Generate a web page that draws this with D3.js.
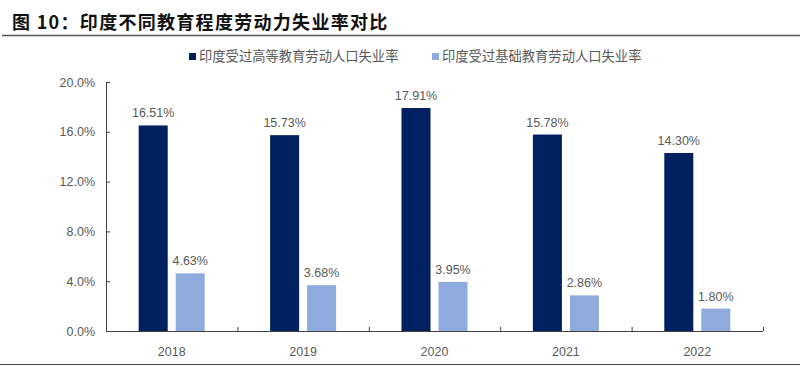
<!DOCTYPE html>
<html><head><meta charset="utf-8">
<script src="https://cdn.jsdelivr.net/npm/d3@7"></script>
<style>body{margin:0;background:#fff;}svg{display:block;}</style>
</head><body>
<svg id="c" width="800" height="366"></svg>
<script>
const years = ["2018","2019","2020","2021","2022"];
const seriesNames = ["印度受过高等教育劳动人口失业率","印度受过基础教育劳动人口失业率"];
const higherEdu = [16.51,15.73,17.91,15.78,14.30];
const basicEdu = [4.63,3.68,3.95,2.86,1.80];
const yTicks = [0,4,8,12,16,20];
const colors = ["#002060","#8FAADC"];
const txt = "#595959";

const svg = d3.select("#c");
const font = "Arial, 'Liberation Sans', sans-serif";
const cjk = "'Noto Sans CJK SC', sans-serif";

// title
svg.append("text").attr("x",12).attr("y",29).attr("font-family",cjk).attr("font-weight","bold")
  .attr("font-size",18).attr("fill","#111").attr("letter-spacing",1.3).text("图 10：印度不同教育程度劳动力失业率对比");
svg.append("line").attr("x1",2).attr("x2",800).attr("y1",35.5).attr("y2",35.5).attr("stroke","#555").attr("stroke-width",1.5);
svg.append("line").attr("x1",0).attr("x2",800).attr("y1",364.5).attr("y2",364.5).attr("stroke","#444").attr("stroke-width",1);

const x = d3.scaleBand().domain(years).range([106,763]);
const y = d3.scaleLinear().domain([0,20]).range([331,82]);

// legend
const legX = [189,432];
seriesNames.forEach((n,i)=>{
  svg.append("rect").attr("x",legX[i]).attr("y",53).attr("width",7).attr("height",7).attr("fill",colors[i]);
  svg.append("text").attr("x",legX[i]+10).attr("y",61).attr("font-family",cjk).attr("font-size",13.3)
    .attr("fill",txt).text(n);
});

// axes
const yAxis = svg.append("g").attr("transform","translate(106,0)")
  .call(d3.axisLeft(y).tickValues(yTicks).tickSize(-4).tickPadding(11).tickFormat(d=>d.toFixed(1)+"%"));
yAxis.selectAll("text").attr("font-family",font).attr("font-size",12.5).attr("fill",txt);
yAxis.selectAll("line,path").attr("stroke","#404040");
yAxis.select("path").attr("d","M0.5,82V331");

const xAxis = svg.append("g").attr("transform","translate(0,331)")
  .call(d3.axisBottom(x).tickSize(0).tickPadding(16));
xAxis.selectAll("text").attr("font-family",font).attr("font-size",12.5).attr("fill",txt);
xAxis.select("path").attr("stroke","#404040").attr("d","M106,0.5H763");
// category boundary ticks
const bounds = years.map(d=>x(d)).concat([x(years[years.length-1])+x.bandwidth()]);
svg.append("g").selectAll("line").data(bounds).join("line")
  .attr("x1",d=>d+0.5).attr("x2",d=>d+0.5).attr("y1",327).attr("y2",331).attr("stroke","#404040");

// bars
const bw = 29, gap = 8;
const data = [higherEdu, basicEdu];
data.forEach((vals,si)=>{
  const g = svg.append("g");
  const bx = (d,i)=> x(years[i]) + x.bandwidth()/2 - (bw*2+gap)/2 + si*(bw+gap);
  g.selectAll("rect").data(vals).join("rect")
    .attr("x",bx).attr("y",d=>y(d)).attr("width",bw).attr("height",d=>y(0)-y(d)).attr("fill",colors[si]);
  g.selectAll("text").data(vals).join("text")
    .attr("x",(d,i)=>bx(d,i)+bw/2).attr("y",d=>y(d)-8).attr("text-anchor","middle")
    .attr("font-family",font).attr("font-size",12.5).attr("fill",txt).text(d=>d.toFixed(2)+"%");
});
</script>
</body></html>
